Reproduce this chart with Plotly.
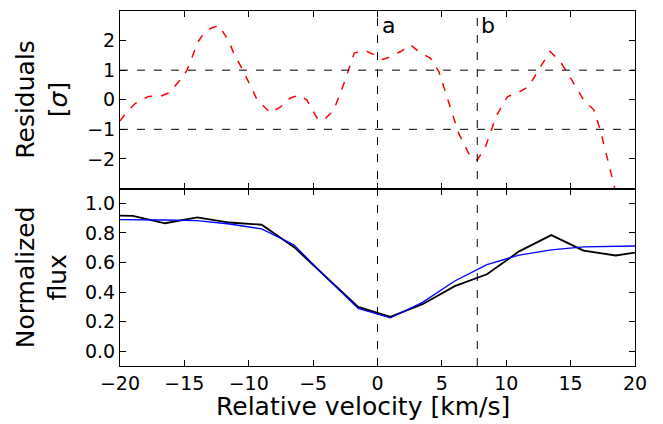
import plotly.graph_objects as go

# Residuals (top panel)
res_x = [-20.0, -19.45, -18.8, -17.8, -16.8, -16.2, -15.2, -14.8, -14.27, -14.0, -13.5, -13.0,
         -12.33, -11.55, -11.17, -10.4, -9.35, -8.3, -7.5, -6.8, -6.1, -5.5, -4.7, -4.2, -3.4,
         -2.6, -1.8, -1.4, -0.8, 0.0, 0.4, 0.75, 1.8, 2.56, 3.34, 4.1, 4.77, 5.67, 6.3, 7.2,
         7.75, 8.4, 9.2, 10.1, 10.85, 11.76, 12.5, 13.4, 14.2, 15.0, 16.0, 16.8, 17.3, 18.4, 19.0]
res_y = [-0.72, -0.4, -0.12, 0.11, 0.13, 0.23, 0.73, 1.0, 1.58, 1.92, 2.24, 2.4,
         2.52, 1.98, 1.58, 0.95, 0.0, -0.45, -0.23, 0.05, 0.16, 0.0, -0.62, -0.7, -0.35,
         0.56, 1.58, 1.63, 1.63, 1.47, 1.36, 1.41, 1.63, 1.86, 1.58, 1.41, 0.95, -0.23, -1.13, -1.92,
         -2.04, -1.58, -0.57, 0.11, 0.22, 0.45, 1.01, 1.63, 1.29, 0.73, 0.0, -0.34, -1.02, -2.94, -4.0]

# Normalized flux (bottom panel)
vel = [-21.5, -19.0, -16.5, -14.0, -11.5, -9.0, -6.5, -4.0, -1.5, 1.0, 3.5, 6.0, 8.5,
       11.0, 13.5, 16.0, 18.5, 21.0]
flux_obs = [0.92, 0.915, 0.865, 0.905, 0.87, 0.855, 0.705, 0.505, 0.30, 0.232, 0.318, 0.44,
            0.52, 0.675, 0.785, 0.68, 0.647, 0.68]
flux_model = [0.89, 0.89, 0.887, 0.883, 0.86, 0.827, 0.72, 0.50, 0.29, 0.225, 0.33, 0.475,
              0.585, 0.65, 0.685, 0.705, 0.71, 0.713]

hlines = [1, -1]
vlines = [0.0, 7.75]
vlabels = ["a", "b"]

FONT = "DejaVu Sans"
DASH = "8px,9px"

fig = go.Figure()
fig.add_trace(go.Scatter(x=res_x, y=res_y, mode="lines", xaxis="x", yaxis="y",
                         line=dict(color="#ff0000", width=1.5, dash=DASH),
                         showlegend=False, hoverinfo="skip"))
fig.add_trace(go.Scatter(x=vel, y=flux_obs, mode="lines", xaxis="x2", yaxis="y2",
                         line=dict(color="#000000", width=1.8),
                         showlegend=False, hoverinfo="skip"))
fig.add_trace(go.Scatter(x=vel, y=flux_model, mode="lines", xaxis="x2", yaxis="y2",
                         line=dict(color="#0000ff", width=1.3),
                         showlegend=False, hoverinfo="skip"))

shapes = []
for h in hlines:
    shapes.append(dict(type="line", xref="x", yref="y", x0=-20, x1=20, y0=h, y1=h,
                       line=dict(color="black", width=1, dash=DASH)))
for v in vlines:
    shapes.append(dict(type="line", xref="x", yref="paper", x0=v, x1=v, y0=0, y1=1,
                       line=dict(color="black", width=1, dash=DASH)))

annotations = []
for v, lab in zip(vlines, vlabels):
    annotations.append(dict(x=v, y=3, xref="x", yref="y", text=lab, showarrow=False,
                            xanchor="left", yanchor="top", xshift=2,
                            font=dict(family=FONT, size=22, color="black")))
annotations.append(dict(x=0, y=0.75, xref="paper", yref="paper", text="Residuals<br>[<i>σ</i>]",
                        showarrow=False, textangle=-90, xanchor="center", yanchor="middle",
                        xshift=-78, font=dict(family=FONT, size=25, color="black")))
annotations.append(dict(x=0, y=0.25, xref="paper", yref="paper", text="Normalized<br>flux",
                        showarrow=False, textangle=-90, xanchor="center", yanchor="middle",
                        xshift=-78, font=dict(family=FONT, size=25, color="black")))
annotations.append(dict(x=0.472, y=-0.114, xref="paper", yref="paper",
                        text="Relative velocity [km/s]", showarrow=False,
                        xanchor="center", yanchor="middle",
                        font=dict(family=FONT, size=25, color="black")))

axis_common = dict(showline=True, linecolor="black", linewidth=1, mirror="ticks",
                   ticks="inside", ticklen=6, tickwidth=1, tickcolor="black",
                   showgrid=False, zeroline=False,
                   tickfont=dict(family=FONT, size=19, color="black"))

fig.update_layout(
    width=663, height=424, autosize=False,
    margin=dict(l=120, r=28, t=11, b=58, pad=0),
    paper_bgcolor="white", plot_bgcolor="white",
    font=dict(family=FONT, color="black"),
    xaxis=dict(domain=[0, 1], anchor="y", range=[-20, 20], tickvals=list(range(-20, 21, 5)),
               showticklabels=False, **axis_common),
    yaxis=dict(domain=[0.5, 1], anchor="x", range=[-3, 3], tickvals=[-2, -1, 0, 1, 2],
               **axis_common),
    xaxis2=dict(domain=[0, 1], anchor="y2", range=[-20, 20], tickvals=list(range(-20, 21, 5)),
                **axis_common),
    yaxis2=dict(domain=[0, 0.5], anchor="x2", range=[-0.1, 1.1],
                tickvals=[0, 0.2, 0.4, 0.6, 0.8, 1.0], tickformat=".1f", **axis_common),
    shapes=shapes,
    annotations=annotations,
)

fig.write_html("out.html")
